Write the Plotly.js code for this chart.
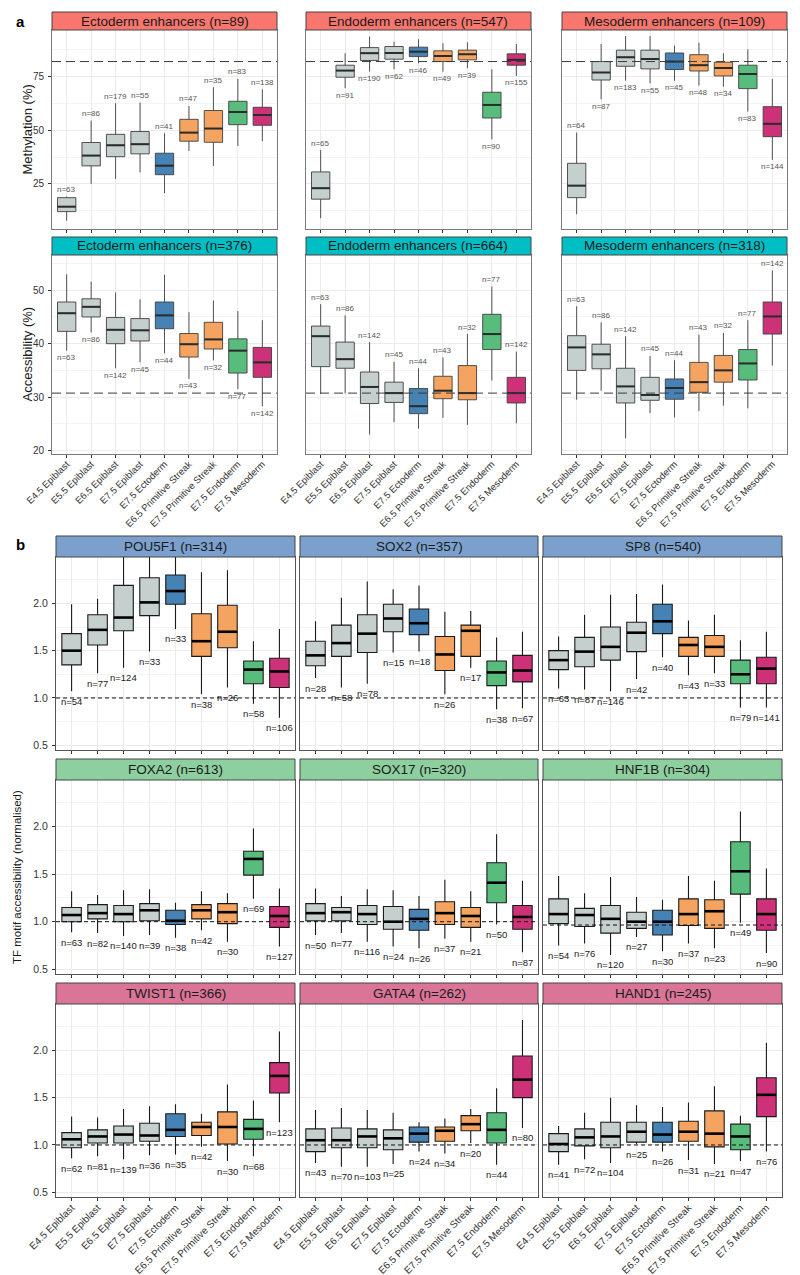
<!DOCTYPE html>
<html><head><meta charset="utf-8">
<script src="https://cdn.plot.ly/plotly-3.0.1.min.js"></script>
<style>body{margin:0;background:#fff}#chart{width:800px;height:1275px}</style>
</head><body><div id="chart"></div>
<script>
// ---------- DATA ----------
const stages = ['E4.5 Epiblast','E5.5 Epiblast','E6.5 Epiblast','E7.5 Epiblast','E7.5 Ectoderm',
  'E6.5 Primitive Streak','E7.5 Primitive Streak','E7.5 Endoderm','E7.5 Mesoderm'];
const stageColors = ['#C5CFCD','#C5CFCD','#C5CFCD','#C5CFCD','#4682B4','#F4A460','#F4A460','#58BC7C','#CD3278'];

// each row: [lower whisker, q1, median, q3, upper whisker]
const methEcto = [[7.9,12.1,14.4,18.6,19.1],[25.0,33.4,38.2,44.3,54.5],[27.3,37.7,43.0,48.1,62.6],[30.4,39.0,43.5,49.4,62.9],[20.7,29.3,33.5,39.3,48.6],[40.4,44.9,48.9,55.1,61.3],[33.4,44.4,50.8,59.2,70.0],[42.7,52.6,58.5,63.5,73.9],[44.9,52.3,57.1,60.7,69.1]];
const nMethEcto = [63,86,179,55,41,47,35,83,138];
const methEndo = [[9.0,17.9,23.0,30.6,40.8],[69.6,74.7,77.8,80.3,85.9],[77.3,82.5,85.9,88.5,93.6],[78.4,83.1,86.0,89.0,91.3],[81.2,84.3,86.6,88.7,92.4],[77.3,82.0,84.6,87.0,90.5],[78.9,82.8,85.4,87.3,91.0],[45.8,55.7,61.8,67.7,78.4],[75.3,80.3,82.8,85.6,90.2]];
const nMethEndo = [65,91,190,62,46,49,39,90,155];
const methMeso = [[10.9,18.6,24.2,34.6,48.9],[64.4,73.4,76.9,82.0,90.2],[73.1,79.8,84.0,87.3,93.9],[71.9,78.6,83.2,87.3,93.9],[73.0,78.3,82.0,86.0,89.4],[70.8,77.6,80.3,85.2,90.8],[70.3,75.3,79.0,81.7,85.9],[58.7,69.4,76.2,80.3,87.7],[36.2,47.0,53.0,61.0,73.9]];
const nMethMeso = [64,87,183,55,45,48,34,83,144];
const accEcto = [[38.7,42.3,45.7,47.8,53.0],[42.1,45.0,46.9,48.4,51.6],[35.4,40.0,42.6,44.9,49.6],[36.5,40.5,42.5,44.7,48.3],[38.2,42.8,45.3,47.8,52.9],[33.4,37.5,39.9,41.9,45.9],[36.9,39.0,40.8,44.0,48.1],[31.5,34.5,38.7,40.9,46.1],[28.3,33.7,36.5,39.3,44.4]];
const nAccEcto = [63,86,142,45,44,43,32,77,142];
const accEndo = [[30.6,35.7,41.4,43.3,47.4],[30.7,35.4,37.1,40.3,45.3],[23.0,28.8,31.9,34.7,40.3],[25.3,29.0,30.75,32.8,36.6],[24.1,26.9,28.3,31.6,35.4],[26.1,29.7,31.2,33.9,37.4],[24.8,29.5,30.75,35.9,41.8],[33.1,38.9,41.8,45.5,50.7],[25.1,28.9,30.75,33.7,38.5]];
const nAccEndo = [63,86,142,45,44,43,32,77,142];
const accMeso = [[29.5,35.0,39.3,41.5,47.0],[31.2,35.3,38.0,39.9,44.0],[22.3,28.9,32.0,35.4,41.4],[27.0,29.4,30.4,33.7,37.7],[26.2,29.6,31.7,33.4,36.9],[27.4,30.9,32.8,36.5,41.7],[28.4,32.8,35.0,37.8,42.0],[27.9,33.2,36.3,38.9,44.4],[35.9,41.8,45.1,47.8,53.7]];
const nAccMeso = [63,86,142,45,44,43,32,77,142];

const pou5f1 = [[1.07,1.35,1.50,1.68,1.99],[1.26,1.56,1.72,1.88,2.05],[1.32,1.71,1.85,2.19,2.60],[1.49,1.87,2.01,2.27,2.60],[1.73,1.99,2.13,2.30,2.60],[1.04,1.44,1.60,1.89,2.33],[1.11,1.53,1.70,1.98,2.35],[0.94,1.15,1.30,1.39,1.60],[0.79,1.11,1.28,1.42,1.73]];
const nPou5f1 = [54,77,124,33,33,38,26,58,106];
const sox2 = [[1.21,1.34,1.45,1.60,1.81],[1.11,1.44,1.58,1.77,2.06],[1.15,1.48,1.68,1.88,2.23],[1.48,1.70,1.84,1.99,2.15],[1.49,1.67,1.79,1.94,2.19],[1.04,1.29,1.46,1.65,1.91],[1.32,1.44,1.71,1.77,1.92],[0.88,1.13,1.27,1.39,1.64],[0.89,1.17,1.29,1.45,1.70]];
const nSox2 = [28,58,78,15,18,26,17,38,67];
const sp8 = [[1.10,1.30,1.40,1.50,1.65],[1.09,1.33,1.49,1.64,1.88],[1.07,1.40,1.54,1.75,2.09],[1.20,1.49,1.69,1.80,2.10],[1.43,1.68,1.81,1.99,2.20],[1.24,1.44,1.56,1.64,1.82],[1.26,1.44,1.54,1.66,1.88],[0.90,1.15,1.25,1.40,1.61],[0.90,1.15,1.31,1.43,1.70]];
const nSp8 = [63,87,146,42,40,43,33,79,141];
const foxa2 = [[0.89,1.00,1.07,1.15,1.32],[0.88,1.03,1.09,1.18,1.28],[0.85,1.00,1.08,1.17,1.33],[0.86,1.01,1.12,1.19,1.34],[0.83,0.97,1.01,1.12,1.20],[0.91,1.03,1.12,1.18,1.32],[0.79,0.98,1.10,1.19,1.30],[1.24,1.49,1.66,1.74,1.98],[0.74,0.94,1.06,1.16,1.35]];
const nFoxa2 = [63,82,140,39,38,42,30,69,127];
const sox17 = [[0.86,1.01,1.09,1.19,1.35],[0.88,1.01,1.10,1.15,1.27],[0.79,0.97,1.08,1.17,1.34],[0.74,0.92,1.00,1.16,1.33],[0.72,0.91,1.03,1.13,1.27],[0.82,0.97,1.09,1.21,1.44],[0.79,0.94,1.06,1.15,1.32],[0.97,1.20,1.41,1.62,1.92],[0.68,0.92,1.05,1.17,1.43]];
const nSox17 = [50,77,116,24,26,37,21,50,87];
const hnf1b = [[0.75,0.98,1.08,1.24,1.48],[0.77,0.95,1.07,1.14,1.30],[0.65,0.88,1.03,1.17,1.47],[0.84,0.93,1.00,1.10,1.26],[0.69,0.86,1.00,1.12,1.23],[0.77,0.96,1.08,1.24,1.48],[0.72,0.93,1.11,1.23,1.43],[0.99,1.29,1.53,1.84,2.16],[0.67,0.91,1.08,1.24,1.56]];
const nHnf1b = [54,76,120,27,30,37,23,49,90];
const twist1 = [[0.86,0.97,1.06,1.13,1.30],[0.88,1.02,1.09,1.16,1.29],[0.85,1.02,1.11,1.20,1.38],[0.89,1.04,1.10,1.23,1.41],[0.90,1.09,1.16,1.33,1.43],[0.98,1.10,1.19,1.24,1.33],[0.83,1.01,1.19,1.35,1.64],[0.88,1.06,1.17,1.27,1.47],[1.24,1.55,1.73,1.87,2.20]];
const nTwist1 = [62,81,139,36,35,42,30,68,123];
const gata4 = [[0.81,0.93,1.05,1.17,1.37],[0.77,0.97,1.05,1.18,1.39],[0.77,0.97,1.09,1.17,1.37],[0.80,0.95,1.07,1.16,1.34],[0.93,1.03,1.12,1.19,1.24],[0.91,1.04,1.15,1.19,1.28],[1.02,1.15,1.22,1.31,1.38],[0.79,1.02,1.16,1.34,1.60],[1.18,1.50,1.69,1.94,2.32]];
const nGata4 = [43,70,103,25,24,34,20,44,80];
const hand1 = [[0.79,0.93,1.01,1.12,1.20],[0.85,0.99,1.08,1.17,1.34],[0.81,0.97,1.09,1.24,1.50],[1.01,1.03,1.14,1.24,1.42],[0.93,1.03,1.11,1.24,1.40],[0.84,1.04,1.14,1.25,1.45],[0.80,0.98,1.12,1.36,1.62],[0.83,0.95,1.09,1.22,1.31],[0.93,1.30,1.53,1.71,2.08]];
const nHand1 = [41,72,104,25,26,31,21,47,76];

const methRef = 82;
const accRef = 30.75;
const tfRef = 1.0;
const hnf1bRef = 0.965;

// ---------- LAYOUT HELPERS ----------
const W = 800, H = 1275;
const FONT = 'Liberation Sans, Arial, Helvetica, sans-serif';
const colsA = [[52,277],[306,531],[562,787]];
const colsB = [[56,295],[300,538],[543,782]];
const rowsA = [[30,229],[255,454]];
const rowsB = [[557,750],[780,974],[1004,1197]];
const stripA = 18, stripB = 21;
const stripColA = ['#F8766D','#00BFC4'];
const stripColB = ['#7CA0CD','#8ECF9F','#DB7598'];

const panels = [
  {d:methEcto,n:nMethEcto,t:'Ectoderm enhancers (n=89)',g:'a',r:0,c:0,side:'uuuuuuuuu',ref:methRef},
  {d:methEndo,n:nMethEndo,t:'Endoderm enhancers (n=547)',g:'a',r:0,c:1,side:'udddddddd',ref:methRef},
  {d:methMeso,n:nMethMeso,t:'Mesoderm enhancers (n=109)',g:'a',r:0,c:2,side:'udddddddd',ref:methRef},
  {d:accEcto,n:nAccEcto,t:'Ectoderm enhancers (n=376)',g:'a',r:1,c:0,side:'ddddddddd',ref:accRef},
  {d:accEndo,n:nAccEndo,t:'Endoderm enhancers (n=664)',g:'a',r:1,c:1,side:'uuuuuuuuu',ref:accRef},
  {d:accMeso,n:nAccMeso,t:'Mesoderm enhancers (n=318)',g:'a',r:1,c:2,side:'uuuuuuuuu',ref:accRef},
  {d:pou5f1,n:nPou5f1,t:'POU5F1 (n=314)',g:'b',r:0,c:0,side:'ddddddddd',ref:tfRef},
  {d:sox2,n:nSox2,t:'SOX2 (n=357)',g:'b',r:0,c:1,side:'ddddddddd',ref:tfRef},
  {d:sp8,n:nSp8,t:'SP8 (n=540)',g:'b',r:0,c:2,side:'ddddddddd',ref:tfRef},
  {d:foxa2,n:nFoxa2,t:'FOXA2 (n=613)',g:'b',r:1,c:0,side:'ddddddddd',ref:tfRef},
  {d:sox17,n:nSox17,t:'SOX17 (n=320)',g:'b',r:1,c:1,side:'ddddddddd',ref:tfRef},
  {d:hnf1b,n:nHnf1b,t:'HNF1B (n=304)',g:'b',r:1,c:2,side:'ddddddddd',ref:hnf1bRef},
  {d:twist1,n:nTwist1,t:'TWIST1 (n=366)',g:'b',r:2,c:0,side:'ddddddddd',ref:tfRef},
  {d:gata4,n:nGata4,t:'GATA4 (n=262)',g:'b',r:2,c:1,side:'ddddddddd',ref:tfRef},
  {d:hand1,n:nHand1,t:'HAND1 (n=245)',g:'b',r:2,c:2,side:'ddddddddd',ref:tfRef}
];

const yCfg = {
  a0:{range:[4.0,96.7], dtick:25, minor:12.5, fmt:''},
  a1:{range:[19.35,56.6], dtick:10, minor:5, fmt:''},
  b:{range:[0.45,2.49], dtick:0.5, minor:0.25, fmt:'.1f'}
};

const data = [], shapes = [], annotations = [];
const layout = {
  width:W, height:H, margin:{l:0,r:0,t:0,b:0},
  paper_bgcolor:'#fff', plot_bgcolor:'#fff',
  showlegend:false, boxmode:'overlay',
  font:{family:FONT, color:'#222'},
  shapes:shapes, annotations:annotations
};

const xs = stages.map((s,i)=>i+1);
const BW = 0.75;

panels.forEach((p,idx)=>{
  const k = idx+1, sfx = k===1 ? '' : String(k);
  const xa = 'x'+sfx, ya = 'y'+sfx;
  const isA = p.g==='a';
  const col = (isA?colsA:colsB)[p.c];
  const row = (isA?rowsA:rowsB)[p.r];
  const lastRow = isA ? p.r===1 : p.r===2;
  const yc = isA ? yCfg['a'+p.r] : yCfg.b;
  const border = isA ? '#7a7a7a' : '#555';

  layout['xaxis'+sfx] = {
    domain:[col[0]/W, col[1]/W], anchor:ya, range:[0.4,9.6],
    tickmode:'array', tickvals:xs, ticktext:stages, showticklabels:lastRow,
    tickangle:-45, ticks:'outside', ticklen:3, tickcolor:'#333', tickwidth:1,
    ticklabelstandoff:-3,
    tickfont:{size:isA?9.5:10, color:'#333', family:FONT},
    showgrid:true, gridcolor:'#EBEBEB', gridwidth:1,
    showline:true, mirror:true, linecolor:border, linewidth:1,
    zeroline:false, fixedrange:true
  };
  layout['yaxis'+sfx] = {
    domain:[1-row[1]/H, 1-row[0]/H], anchor:xa, range:yc.range,
    tickmode:'linear', tick0:0, dtick:yc.dtick, tickformat:yc.fmt,
    showticklabels:p.c===0, ticks:p.c===0?'outside':'', ticklen:3, tickcolor:'#333',
    ticklabelstandoff:2,
    tickfont:{size:isA?10:10.5, color:'#333', family:FONT},
    showgrid:true, gridcolor:'#EBEBEB', gridwidth:1,
    minor:{dtick:yc.minor, tick0:0, showgrid:true, gridcolor:'#F0F0F0', gridwidth:0.7, ticks:''},
    showline:true, mirror:true, linecolor:border, linewidth:1,
    zeroline:false, fixedrange:true
  };

  // boxes
  p.d.forEach((b,i)=>{
    data.push({
      type:'box', xaxis:xa, yaxis:ya, x:[xs[i]],
      lowerfence:[b[0]], q1:[b[1]], median:[b[2]], q3:[b[3]], upperfence:[b[4]],
      width:BW, whiskerwidth:0, boxpoints:false,
      fillcolor:stageColors[i],
      line:{color:isA?'#3f3f3f':'#1a1a1a', width:isA?0.9:1.1},
      hoverinfo:'skip', showlegend:false
    });
  });
  // thick median bars
  const mx = [], my = [];
  p.d.forEach((b,i)=>{ mx.push(xs[i]-BW/2, xs[i]+BW/2, null); my.push(b[2], b[2], null); });
  data.push({type:'scatter', mode:'lines', xaxis:xa, yaxis:ya, x:mx, y:my,
    line:{color:isA?'#2b2b2b':'#000', width:isA?2:2.6}, hoverinfo:'skip', showlegend:false});

  // reference dashed line
  shapes.push({type:'line', layer:'above', xref:xa+' domain', yref:ya, x0:0, x1:1, y0:p.ref, y1:p.ref,
    line:{color:isA?'#3a3a3a':'#111', width:1, dash:isA?'9px,5px':'4px,3px'}});

  // n labels
  p.d.forEach((b,i)=>{
    const up = p.side[i]==='u';
    annotations.push({xref:xa, yref:ya, x:xs[i], y:up?b[4]:b[0], text:'n='+p.n[i],
      showarrow:false, xanchor:'center', yanchor:'middle',
      yshift: isA ? (up?7:-7) : -10,
      font:{size:isA?8:9.5, color:isA?'#555':'#1a1a1a', family:FONT}});
  });

  // strip
  const sh = isA ? stripA : stripB;
  shapes.push({type:'rect', layer:'above', xref:'paper', yref:'paper',
    x0:col[0]/W, x1:col[1]/W, y0:1-row[0]/H, y1:1-(row[0]-sh)/H,
    fillcolor:isA?stripColA[p.r]:stripColB[p.r], line:{color:'#444', width:1}});
  annotations.push({xref:'paper', yref:'paper', x:(col[0]+col[1])/2/W, y:1-(row[0]-sh/2)/H,
    text:p.t, showarrow:false, xanchor:'center', yanchor:'middle',
    font:{size:13.5, color:'#1a1a1a', family:FONT}});
});

// axis titles and panel letters
annotations.push({xref:'paper', yref:'paper', x:27/W, y:1-129.5/H, text:'Methylation (%)', textangle:-90,
  showarrow:false, xanchor:'center', yanchor:'middle', font:{size:13, color:'#1a1a1a', family:FONT}});
annotations.push({xref:'paper', yref:'paper', x:27/W, y:1-354.5/H, text:'Accessibility (%)', textangle:-90,
  showarrow:false, xanchor:'center', yanchor:'middle', font:{size:13, color:'#1a1a1a', family:FONT}});
annotations.push({xref:'paper', yref:'paper', x:17/W, y:1-877/H, text:'TF motif accessibility (normalised)', textangle:-90,
  showarrow:false, xanchor:'center', yanchor:'middle', font:{size:11.5, color:'#1a1a1a', family:FONT}});
annotations.push({xref:'paper', yref:'paper', x:20/W, y:1-21/H, text:'<b>a</b>',
  showarrow:false, xanchor:'center', yanchor:'middle', font:{size:15, color:'#000', family:FONT}});
annotations.push({xref:'paper', yref:'paper', x:20/W, y:1-544/H, text:'<b>b</b>',
  showarrow:false, xanchor:'center', yanchor:'middle', font:{size:15, color:'#000', family:FONT}});

Plotly.newPlot('chart', data, layout, {staticPlot:true, displayModeBar:false});
</script></body></html>
